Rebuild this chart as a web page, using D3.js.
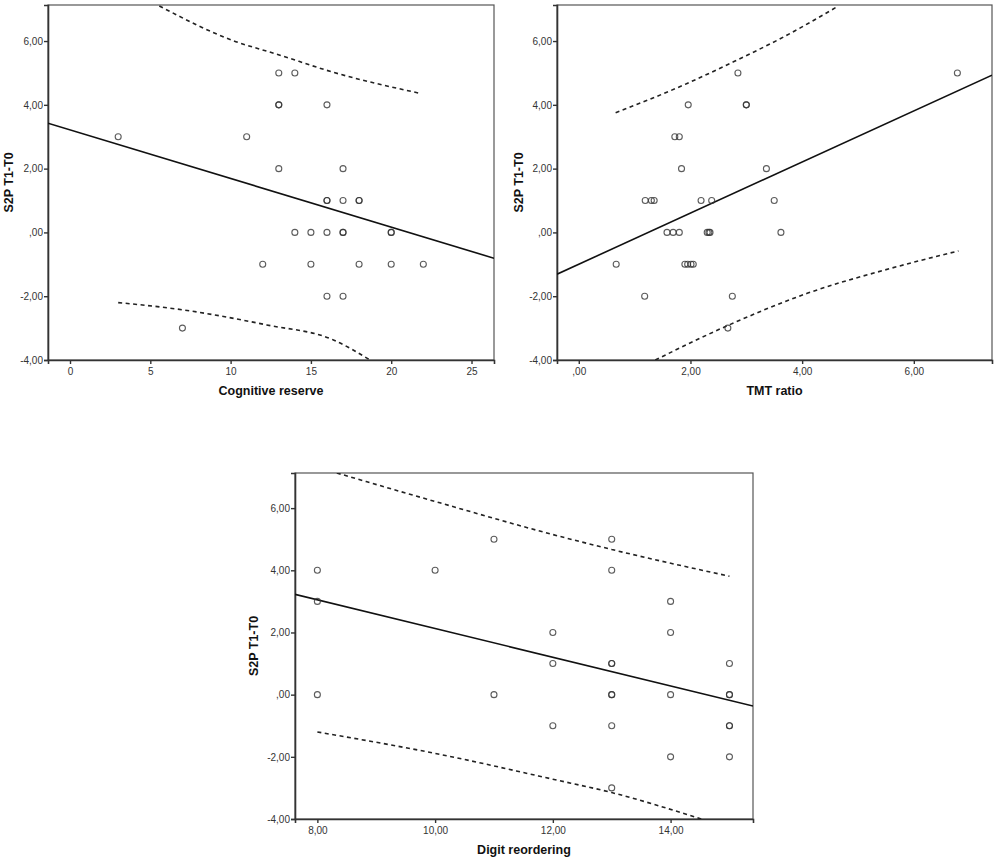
<!DOCTYPE html>
<html>
<head>
<meta charset="utf-8">
<script src="https://cdn.jsdelivr.net/npm/d3@7"></script>
<style>
  body { margin: 0; background: #fff; }
  svg { display: block; font-family: "Liberation Sans", Arial, sans-serif; }
</style>
</head>
<body>
<div id="chart"></div>
<script>
// values
const yTicks = [-4, -2, 0, 2, 4, 6];
const yTickLabels = ["-4,00", "-2,00", ",00", "2,00", "4,00", "6,00"];
const yDomain = [-4, 7.13];

// Cognitive reserve panel
const cogX = [3, 7, 11, 12, 13, 13, 13, 13, 14, 14, 15, 15, 16, 16, 16, 16, 16, 17, 17, 17, 17, 17, 18, 18, 18, 20, 20, 20, 22];
const cogY = [3, -3, 3, -1, 5, 4, 4, 2, 5, 0, 0, -1, 4, 1, 1, 0, -2, 2, 1, 0, 0, -2, 1, 1, -1, 0, 0, -1, -1];
const cogTicks = [0, 5, 10, 15, 20, 25];
const cogTickLabels = ["0", "5", "10", "15", "20", "25"];
const cogFitX = [-1.37, 26.4];
const cogFitY = [3.425, -0.81];
const cogUpperX = [5.56, 10.17, 12.87, 16.4, 21.8];
const cogUpperY = [7.1, 6.01, 5.59, 5.02, 4.36];
const cogLowerX = [3, 7.06, 12.25, 16.4, 18.68];
const cogLowerY = [-2.2, -2.43, -2.9, -3.37, -4.0];

// TMT ratio panel
const tmtX = [0.67, 1.18, 1.19, 1.30, 1.35, 1.58, 1.69, 1.80, 1.72, 1.80, 1.84, 1.96, 1.90, 1.95, 2.01, 2.05, 2.19, 2.38, 2.30, 2.33, 2.35, 2.67, 2.75, 2.85, 3.0, 3.0, 3.36, 3.50, 3.62, 6.78];
const tmtY = [-1, -2, 1, 1, 1, 0, 0, 0, 3, 3, 2, 4, -1, -1, -1, -1, 1, 1, 0, 0, 0, -3, -2, 5, 4, 4, 2, 1, 0, 5];
const tmtTicks = [0, 2, 4, 6];
const tmtTickLabels = [",00", "2,00", "4,00", "6,00"];
const tmtFitX = [-0.39, 7.40];
const tmtFitY = [-1.31, 4.93];
const tmtUpperX = [0.66, 1.94, 2.77, 3.67, 4.65];
const tmtUpperY = [3.75, 4.67, 5.35, 6.13, 7.1];
const tmtLowerX = [1.37, 2.68, 4.09, 5.58, 6.80];
const tmtLowerY = [-4.0, -2.91, -1.91, -1.13, -0.58];

// Digit reordering panel
const digX = [8, 8, 8, 10, 11, 11, 12, 12, 12, 13, 13, 13, 13, 13, 13, 13, 13, 14, 14, 14, 14, 15, 15, 15, 15, 15, 15];
const digY = [4, 3, 0, 4, 5, 0, 2, 1, -1, 5, 4, 1, 1, 0, 0, -1, -3, 3, 2, 0, -2, 1, 0, 0, -1, -1, -2];
const digTicks = [8, 10, 12, 14];
const digTickLabels = ["8,00", "10,00", "12,00", "14,00"];
const digFitX = [7.62, 15.40];
const digFitY = [3.225, -0.366];
const digUpperX = [8.33, 10.08, 12, 13, 15];
const digUpperY = [7.13, 6.17, 5.15, 4.67, 3.81];
const digLowerX = [8, 10.08, 12, 13, 14.52];
const digLowerY = [-1.2, -1.92, -2.72, -3.15, -4.0];

const width = 1000;
const height = 863;

const svg = d3.select("#chart").append("svg")
    .attr("width", width)
    .attr("height", height);

const zip = (xs, ys) => xs.map((x, i) => [x, ys[i]]);

//one scatter panel per call
function drawPanel(p) {
    const x = d3.scaleLinear().domain(p.xDomain).range([p.left, p.right]);
    const y = d3.scaleLinear().domain(yDomain).range([p.bottom, p.top]);
    const g = svg.append("g");

    g.append("clipPath").attr("id", p.id + "-clip")
        .append("rect")
        .attr("x", p.left).attr("y", p.top)
        .attr("width", p.right - p.left).attr("height", p.bottom - p.top);

    // frame
    g.append("rect")
        .attr("x", p.left).attr("y", p.top)
        .attr("width", p.right - p.left).attr("height", p.bottom - p.top)
        .attr("fill", "none").attr("stroke", "#555").attr("stroke-width", 1.2);

    const yAxis = g.append("g")
        .attr("transform", `translate(${p.left},0)`)
        .call(d3.axisLeft(y).tickValues(yTicks).tickSize(4).tickPadding(1)
            .tickFormat((d, i) => yTickLabels[i]));
    const xAxis = g.append("g")
        .attr("transform", `translate(0,${p.bottom})`)
        .call(d3.axisBottom(x).tickValues(p.ticks).tickSize(4).tickPadding(4)
            .tickFormat((d, i) => p.tickLabels[i]));
    [xAxis, yAxis].forEach(a => {
        a.select(".domain").attr("stroke", "#333").attr("stroke-width", 1.6);
        a.selectAll(".tick line").attr("stroke", "#333").attr("stroke-width", 1.4);
        a.selectAll(".tick text").attr("fill", "#333").style("font-size", "10px");
    });

    const plot = g.append("g").attr("clip-path", `url(#${p.id}-clip)`);

    const band = d3.line().x(d => x(d[0])).y(d => y(d[1])).curve(d3.curveMonotoneX);
    [p.upper, p.lower].forEach(b => {
        plot.append("path")
            .attr("d", band(b))
            .attr("fill", "none")
            .attr("stroke", "#222")
            .attr("stroke-width", 1.6)
            .attr("stroke-dasharray", "4,3.5");
    });

    plot.append("path")
        .attr("d", d3.line().x(d => x(d[0])).y(d => y(d[1]))(p.fit))
        .attr("fill", "none")
        .attr("stroke", "#111")
        .attr("stroke-width", 1.6);

    plot.selectAll("circle")
        .data(p.points)
        .join("circle")
        .attr("cx", d => x(d[0]))
        .attr("cy", d => y(d[1]))
        .attr("r", 3)
        .attr("fill", "none")
        .attr("stroke", "#333")
        .attr("stroke-opacity", 0.8)
        .attr("stroke-width", 1.1);

    // axis titles
    g.append("text")
        .attr("x", (p.left + p.right) / 2)
        .attr("y", p.bottom + 35)
        .attr("text-anchor", "middle")
        .style("font-size", "12.5px")
        .style("font-weight", "bold")
        .attr("fill", "#111")
        .text(p.xTitle);
    g.append("text")
        .attr("transform", `translate(${p.left - p.yTitleOffset},${(p.top + p.bottom) / 2}) rotate(-90)`)
        .attr("text-anchor", "middle")
        .style("font-size", "12.5px")
        .style("font-weight", "bold")
        .attr("fill", "#111")
        .text("S2P T1-T0");
}

drawPanel({
    id: "cog", left: 48, right: 494, top: 5, bottom: 360, yTitleOffset: 35,
    xDomain: [-1.37, 26.4], ticks: cogTicks, tickLabels: cogTickLabels,
    points: zip(cogX, cogY), fit: zip(cogFitX, cogFitY),
    upper: zip(cogUpperX, cogUpperY), lower: zip(cogLowerX, cogLowerY),
    xTitle: "Cognitive reserve"
});

drawPanel({
    id: "tmt", left: 557, right: 992, top: 5, bottom: 360, yTitleOffset: 34,
    xDomain: [-0.39, 7.40], ticks: tmtTicks, tickLabels: tmtTickLabels,
    points: zip(tmtX, tmtY), fit: zip(tmtFitX, tmtFitY),
    upper: zip(tmtUpperX, tmtUpperY), lower: zip(tmtLowerX, tmtLowerY),
    xTitle: "TMT ratio"
});

drawPanel({
    id: "dig", left: 295, right: 753, top: 473, bottom: 819, yTitleOffset: 37,
    xDomain: [7.62, 15.40], ticks: digTicks, tickLabels: digTickLabels,
    points: zip(digX, digY), fit: zip(digFitX, digFitY),
    upper: zip(digUpperX, digUpperY), lower: zip(digLowerX, digLowerY),
    xTitle: "Digit reordering"
});
</script>
</body>
</html>
